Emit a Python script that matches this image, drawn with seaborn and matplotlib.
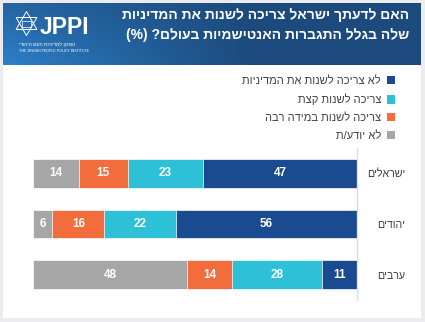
import numpy as np
import pandas as pd
import matplotlib
matplotlib.use("Agg")
import matplotlib.pyplot as plt
from matplotlib.patches import Rectangle, Patch, Polygon
import seaborn as sns

W, H = 425, 322

sns.set_theme(style="white")
plt.rcParams["font.family"] = ["Liberation Sans", "DejaVu Sans"]

# Survey answers, in percent
groups = ["ישראלים", "יהודים", "ערבים"]
no_change = [47, 56, 11]
change_some = [23, 22, 28]
change_much = [15, 16, 14]
dont_know = [14, 6, 48]

series_labels = [
    "לא צריכה לשנות את המדיניות",
    "צריכה לשנות קצת",
    "צריכה לשנות במידה רבה",
    "לא יודע/ת",
]
colors = ["#1a4a8f", "#2ec0d6", "#f26d3b", "#a6a6a6"]
title_lines = [
    "האם לדעתך ישראל צריכה לשנות את המדיניות",
    "שלה בגלל התגברות האנטישמיות בעולם? (%)",
]
logo_name = "JPPI"
logo_sub_he = "המכון למדיניות העם היהודי"
logo_sub_en = "THE JEWISH PEOPLE POLICY INSTITUTE"


def rtl(s):
    """Visual order for right-to-left text."""
    return s[::-1].translate(str.maketrans("()", ")("))


def fx(px):
    return px / W


def fy(py):
    return 1 - py / H


fig = plt.figure(figsize=(W / 100, H / 100), dpi=100, facecolor="#ebebf0")

# white card behind everything
fig.patches.append(Rectangle((fx(3), fy(318)), 418 / W, 315 / H,
                             transform=fig.transFigure, facecolor="white",
                             edgecolor="none", zorder=-10))

# header band with gradient
hx = fig.add_axes([fx(3), fy(65), 418 / W, 62 / H])
X, Y = np.meshgrid(np.linspace(0, 1, 418), np.linspace(0, 1, 62))
L = np.clip(((1 - X) - 0.4) / 0.6, 0, 1) * (0.5 + 0.5 * Y)
dark = np.array([0x1c, 0x4a, 0x7c]) / 255
light = np.array([0x2d, 0x80, 0xc9]) / 255
img = dark[None, None, :] * (1 - L[..., None]) + light[None, None, :] * L[..., None]
hx.imshow(img, extent=(3, 421, 65, 3), aspect="auto", interpolation="bilinear")
hx.set_xlim(3, 421)
hx.set_ylim(65, 3)
hx.axis("off")

# logo: star of David + name
cx, cy, R = 26.5, 23.5, 12.0
for a0 in (90, 270):
    ang = np.deg2rad(np.array([a0, a0 + 120, a0 + 240]))
    pts = np.column_stack([cx + R * np.cos(ang), cy - R * np.sin(ang)])
    hx.add_patch(Polygon(pts, closed=True, fill=False, edgecolor="white", lw=0.7))
hx.add_patch(Rectangle((cx - 4.5, cy - 3), 9, 6, fill=False, edgecolor="white", lw=0.5))
hx.text(40, 33.5, logo_name, fontsize=16.5, fontweight="bold", color="white",
        ha="left", va="baseline")
hx.text(19, 44, rtl(logo_sub_he), fontsize=3.6, color="white", ha="left", va="center")
hx.text(19, 51, logo_sub_en, fontsize=2.6, color="white", ha="left", va="center")

for i, line in enumerate(title_lines):
    fig.text(fx(409), fy(15.5 + 19 * i), rtl(line), ha="right", va="center",
             color="white", fontsize=10, fontweight="bold")

# stacked bars, right to left
df = pd.DataFrame({
    "group": [rtl(g) for g in groups],
    "no_change": no_change,
    "change_some": change_some,
    "change_much": change_much,
    "dont_know": dont_know,
})
cols = ["no_change", "change_some", "change_much", "dont_know"]
total = df[cols].sum(axis=1)
norm = df[cols].div(total, axis=0) * 100
cum = norm.cumsum(axis=1)
for c in cols:
    df["cum_" + c] = cum[c]

ax = fig.add_axes([fx(33), fy(300), (357 - 33) / W, (300 - 148) / H])
for c, col in zip(reversed(cols), reversed(colors)):
    sns.barplot(data=df, x="cum_" + c, y="group", orient="h", color=col,
                saturation=1, width=0.57, edgecolor="white", linewidth=0.5, ax=ax)

for i in range(len(df)):
    start = 0
    for c in cols:
        end = cum.loc[i, c]
        ax.text((start + end) / 2, i, str(df.loc[i, c]), ha="center", va="center",
                color="white", fontweight="bold", fontsize=8.5)
        start = end

ax.set_xlim(100, 0)
ax.set_ylim(2.5, -0.5)
ax.set_xticks([])
ax.set_xlabel("")
ax.set_ylabel("")
ax.set_facecolor("none")
for s in ("top", "left", "bottom"):
    ax.spines[s].set_visible(False)
ax.spines["right"].set_color("#dcdce2")
ax.spines["right"].set_linewidth(1)
ax.yaxis.tick_right()
ax.tick_params(axis="y", length=0, pad=34.5, labelsize=7.7, labelcolor="#404040")
for lab in ax.get_yticklabels():
    lab.set_ha("right")

handles = [Patch(facecolor=c, edgecolor="none") for c in colors]
leg = fig.legend(handles, [rtl(s) for s in series_labels], loc="upper right",
                 bbox_to_anchor=(fx(395), fy(76)), bbox_transform=fig.transFigure,
                 frameon=False, markerfirst=False, fontsize=8, handlelength=0.75,
                 handleheight=0.75, handletextpad=0.5, labelspacing=0.7,
                 borderpad=0, borderaxespad=0)
for t in leg.get_texts():
    t.set_color("#404040")

fig.savefig("out.png", dpi=100, facecolor=fig.get_facecolor())
